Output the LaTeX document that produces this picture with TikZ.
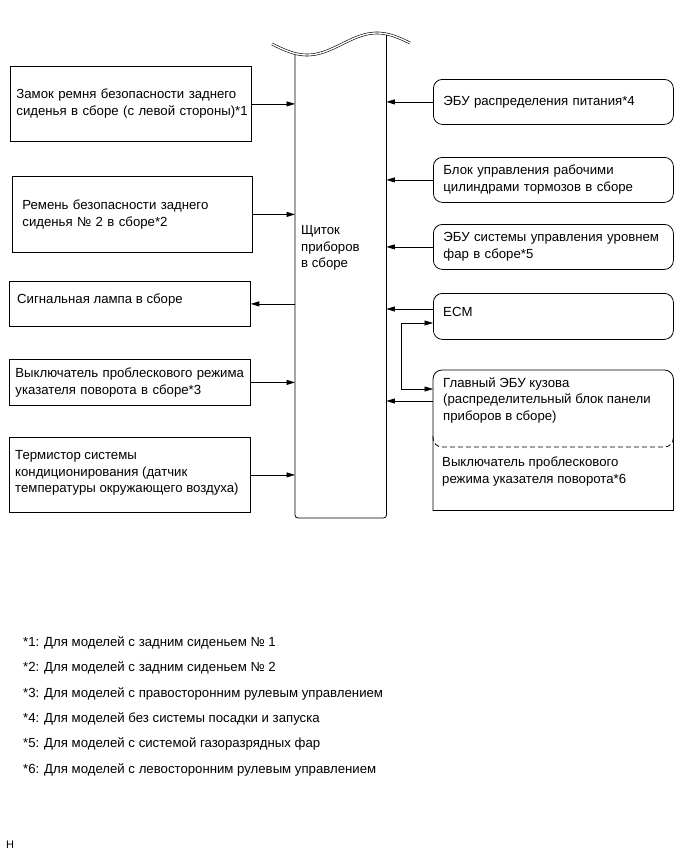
\documentclass[tikz,border=0pt]{standalone}
\usepackage{fontspec}
\setmainfont{Liberation Sans}
\usetikzlibrary{arrows.meta}
\begin{document}
\begin{tikzpicture}[x=1pt,y=-1pt,
  every node/.style={font=\fontsize{13.2}{16.8}\selectfont},
  lbox/.style={draw, line width=0.8pt, rectangle, anchor=north west, align=left, inner ysep=2pt},
  rbox/.style={draw, line width=0.8pt, rectangle, rounded corners=9pt, anchor=north west, align=left, inner xsep=10pt, inner ysep=2pt, minimum width=240pt, text width=220pt},
  txt/.style={anchor=west, align=left, inner sep=0pt},
  arr/.style={line width=0.7pt, -{Triangle[length=8.5pt,width=5pt]}},
  darr/.style={line width=0.7pt, {Triangle[length=8.5pt,width=5pt]}-{Triangle[length=8.5pt,width=5pt]}},
  note/.style={anchor=west, inner sep=0pt, font=\fontsize{13.2}{15}\selectfont}]
\useasboundingbox (0,0) rectangle (691,855);
% central bar
\node[minimum width=91pt, minimum height=482pt, anchor=north west, inner sep=0pt] (bar) at (295,36) {};
\draw[line width=0.8pt, rounded corners=3pt] (295,53.5) -- (295,518) -- (386.5,518) -- (386.5,34.5);
\draw[line width=0.6pt, double=white, double distance=1.4pt]
  plot[domain=272:410, samples=70, smooth] (\x, {44 + 11*sin((\x-272)*2.5714)});
\node[anchor=north west, align=left, inner sep=0pt] (bartext) at (301,225) {Щиток\\приборов\\в сборе};
% left boxes
\node[lbox, minimum width=241pt, minimum height=75pt, text width=229pt, inner xsep=6pt] (b1) at (10,66)
  {Замок ремня безопасности заднего\\\mbox{сиденья в сборе (с левой стороны)*1}};
\node[lbox, minimum width=240pt, minimum height=76pt, text width=220pt, inner xsep=10pt] (b2) at (12,176)
  {Ремень безопасности заднего\\сиденья № 2 в сборе*2};
\node[lbox, minimum width=241pt, minimum height=45pt] (b3) at (9,281) {};
\node[txt] (b3t) at (17,300) {Сигнальная лампа в сборе};
\node[lbox, minimum width=241pt, minimum height=46pt, text width=229pt, inner xsep=6pt] (b4) at (9,359)
  {\mbox{Выключатель проблескового режима}\\указателя поворота в сборе*3};
\node[lbox, minimum width=241pt, minimum height=75pt] (b5) at (9,437) {};
\node[txt] (b5t) at (15,473)
  {Термистор системы\\кондиционирования (датчик\\\mbox{температуры окружающего воздуха)}};
\draw[arr] (b1.east) -- (b1.east -| bar.west);
\draw[arr] (b2.east) -- (b2.east -| bar.west);
\draw[arr] (b3.east -| bar.west) -- (b3.east);
\draw[arr] (b4.east) -- (b4.east -| bar.west);
\draw[arr] (b5.east) -- (b5.east -| bar.west);
% right boxes
\node[rbox, minimum height=45pt] (r1) at (433,79) {ЭБУ распределения питания*4};
\node[rbox, minimum height=45pt] (r2) at (433,157) {Блок управления рабочими\\цилиндрами тормозов в сборе};
\node[rbox, minimum height=45pt] (r3) at (433,224) {\mbox{ЭБУ системы управления уровнем}\\фар в сборе*5};
\node[rbox, minimum height=46pt] (r4) at (433,293) {};
\node[txt] (r4t) at (443,312) {ECM};
\node[anchor=north west, minimum width=240pt, minimum height=140pt, inner sep=0pt] (r5) at (433,370) {};
\draw[line width=0.8pt] (r5.south west) -- ([yshift=-9pt]r5.north west)
  arc[start angle=180, end angle=90, radius=9pt] -- ([xshift=-9pt]r5.north east)
  arc[start angle=90, end angle=0, radius=9pt] -- (r5.south east) -- cycle;
\draw[line width=0.8pt, dashed, dash pattern=on 5pt off 3pt, rounded corners=9pt]
  ([yshift=-66pt]r5.north west) -- ([yshift=-77pt]r5.north west) -- ([yshift=-77pt]r5.north east) -- ([yshift=-66pt]r5.north east);
\node[anchor=north west, align=left, inner sep=0pt] (r5a) at (443,377)
  {Главный ЭБУ кузова\\\mbox{(распределительный блок панели}\\приборов в сборе)};
\node[anchor=north west, align=left, inner sep=0pt] (r5b) at (442,457)
  {Выключатель проблескового\\режима указателя поворота*6};
\draw[arr] (r1.west) -- (r1.west -| bar.east);
\draw[arr] (r2.west) -- (r2.west -| bar.east);
\draw[arr] (r3.west) -- (r3.west -| bar.east);
\coordinate (e1) at (433,309);
\draw[arr] (e1) -- (e1 -| bar.east);
\coordinate (e2) at (433,401);
\draw[arr] (e2) -- (e2 -| bar.east);
\coordinate (k1) at (401,323);
\coordinate (k2) at (401,389);
\draw[darr] (r4.west |- k1) -- (k1) -- (k2) -- (r5.west |- k2);
% notes
\node[note] (n1) at (23,643) {*1: Для моделей с задним сиденьем № 1};
\node[note] (n2) at (23,668) {*2: Для моделей с задним сиденьем № 2};
\node[note] (n3) at (23,694) {*3: Для моделей с правосторонним рулевым управлением};
\node[note] (n4) at (23,719) {*4: Для моделей без системы посадки и запуска};
\node[note] (n5) at (23,744) {*5: Для моделей с системой газоразрядных фар};
\node[note] (n6) at (23,770) {*6: Для моделей с левосторонним рулевым управлением};
\node[anchor=west, inner sep=0pt, font=\fontsize{11}{13}\selectfont] (hh) at (6,845) {H};
\end{tikzpicture}
\end{document}
